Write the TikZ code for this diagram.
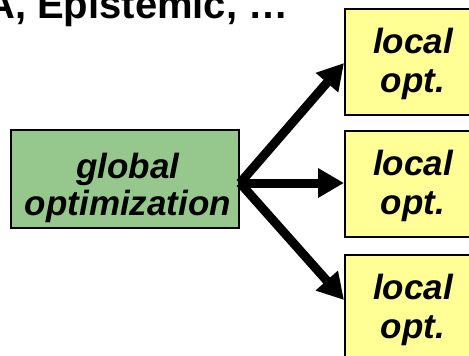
\documentclass[tikz,border=0pt]{standalone}
\usepackage{fontspec}
\setmainfont{Liberation Sans}
\usetikzlibrary{arrows.meta}
\definecolor{boxgreen}{RGB}{150,200,142}
\definecolor{boxyellow}{RGB}{255,255,150}
\tikzset{
  optbox/.style={draw=black, line width=2pt, rectangle, inner sep=0pt},
  optlabel/.style={anchor=base, inner sep=0pt, font=\fontsize{35}{39}\selectfont\bfseries\itshape},
  localbox/.style={optbox, fill=boxyellow, minimum width=136pt, minimum height=106pt},
  fanout/.style={line width=9pt, -{Triangle[length=26pt,width=28pt]}}
}
\begin{document}
\begin{tikzpicture}[x=1pt,y=-1pt]
\useasboundingbox (0,0) rectangle (469,356);
\clip (0,0) rectangle (469,356);
% heading (runs past the frame)
\node[anchor=base west, inner sep=0pt, font=\fontsize{40}{46}\selectfont\bfseries]
  (title) at (-14,19) {A, Epistemic, \ldots};
% global problem
\node[optbox, fill=boxgreen, minimum width=228pt, minimum height=98pt] (g) at (125,179) {};
\node[optlabel] (g1) at (128,178) {global};
\node[optlabel] (g2) at (128,215) {optimization};
% local problems
\node[localbox] (l1) at (413,62) {};
\node[localbox] (l2) at (413,184) {};
\node[localbox] (l3) at (413,308) {};
\foreach \b in {l1,l2,l3}{
  \node[optlabel] (\b a) at ([yshift=9pt]\b.center) {local};
  \node[optlabel] (\b b) at ([yshift=-30pt]\b.center) {opt.};
}
% fan-out arrows
\coordinate (src) at ([yshift=-4pt]g.east);
\draw[fanout] (src) -- ([yshift=-1pt]l1.west);
\draw[fanout] (src) -- ([yshift=1pt]l2.west);
\draw[fanout] (src) -- ([yshift=8pt]l3.west);
\end{tikzpicture}
\end{document}
